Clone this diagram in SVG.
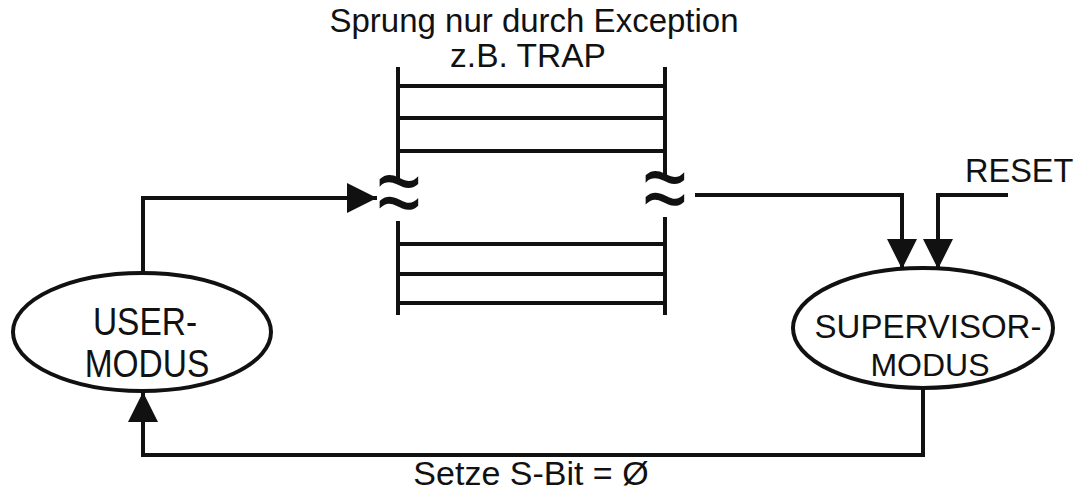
<svg xmlns="http://www.w3.org/2000/svg" width="1082" height="492" viewBox="0 0 1082 492">
<style>
text{font-family:"Liberation Sans",Arial,sans-serif;fill:#111;}
.lbl{font-size:33px;text-anchor:middle;}
.wave{font-size:78px;text-anchor:middle;}
.ln{stroke:#111;stroke-width:4;fill:none;}
.node{stroke:#111;stroke-width:4;fill:#fff;}
.conn{stroke:#111;stroke-width:4;fill:none;marker-end:url(#ah);}
</style>
<defs>
<marker id="ah" markerUnits="userSpaceOnUse" markerWidth="30" markerHeight="30" viewBox="0 0 28 28" refX="28" refY="14" orient="auto">
<path d="M0,0 L28,14 L0,28 z" fill="#111"/>
</marker>
</defs>
<rect width="1082" height="492" fill="#fff"/>
<g id="title">
<text class="lbl" x="534" y="32">Sprung nur durch Exception</text>
<text class="lbl" x="528" y="67" style="font-size:33.5px">z.B. TRAP</text>
</g>
<g id="ladder">
<path class="ln" d="M398,67 V181 M398,221 V315 M665,67 V176 M665,217 V315"/>
<path class="ln" d="M398,86 H665 M398,118 H665 M398,151 H665 M398,244 H665 M398,274 H665 M398,303 H665"/>
<text class="wave" transform="translate(399,199) scale(1,1.35)" y="21">≈</text>
<text class="wave" transform="translate(665,195) scale(1,1.35)" y="21">≈</text>
</g>
<g id="user">
<ellipse class="node" cx="142" cy="332" rx="129" ry="59"/>
<text class="lbl" style="font-size:33.5px" transform="translate(145,335) scale(1,1.16)">USER-</text>
<text class="lbl" style="font-size:33.5px" transform="translate(147,377) scale(1,1.16)">MODUS</text>
</g>
<g id="supervisor">
<ellipse class="node" cx="923" cy="328" rx="130" ry="60"/>
<text class="lbl" x="928" y="338">SUPERVISOR-</text>
<text class="lbl" x="930" y="376" style="font-size:32px">MODUS</text>
</g>
<g id="reset">
<text x="965" y="182" style="font-size:32.5px">RESET</text>
</g>
<g id="connectors">
<path class="conn" d="M143,273 V198 H377"/>
<path class="conn" d="M695,195 H902 V269"/>
<path class="conn" d="M1008,195 H938 V269"/>
<path class="conn" d="M923,388 V455 H143 V392"/>
<text class="lbl" x="531" y="485" style="font-size:34px">Setze S-Bit = Ø</text>
</g>
</svg>
